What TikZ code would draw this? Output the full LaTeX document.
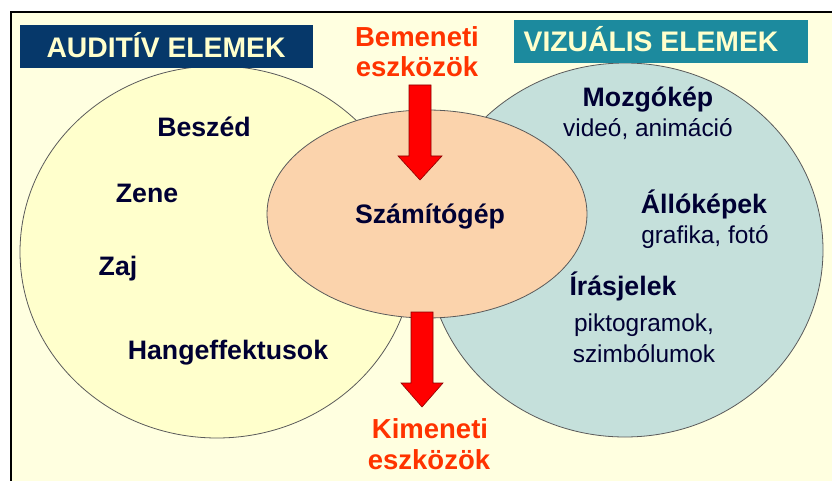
\documentclass[tikz,border=0pt]{standalone}
\usepackage{fontspec}
\setmainfont{Liberation Sans}
\definecolor{bgyellow}{HTML}{FFFFE0}
\definecolor{audfill}{HTML}{FFFFCC}
\definecolor{vizfill}{HTML}{C5E0DB}
\definecolor{pcfill}{HTML}{FBD3AC}
\definecolor{navybox}{HTML}{06386A}
\definecolor{tealbox}{HTML}{1C8A9E}
\definecolor{titletext}{HTML}{FFFFCC}
\definecolor{redtext}{HTML}{FF3300}
\definecolor{bodytext}{HTML}{000033}
\definecolor{arrowred}{HTML}{FF0000}
\definecolor{arrowedge}{HTML}{8A0000}
\definecolor{edgegray}{HTML}{5A5A5A}
\tikzset{
  setfill/.style={draw=edgegray, line width=0.8pt},
  titlebox/.style={inner sep=0pt, minimum height=43pt},
  titlelbl/.style={text=titletext, font=\bfseries\fontsize{28.3}{30}\selectfont, anchor=base},
  bodybold/.style={text=bodytext, font=\bfseries\fontsize{26.7}{30}\selectfont, anchor=base, inner sep=0pt},
  bodyreg/.style={text=bodytext, font=\fontsize{24.4}{28}\selectfont, anchor=base, inner sep=0pt},
  redlbl/.style={text=redtext, font=\bfseries\fontsize{27.5}{30}\selectfont, anchor=base, inner sep=0pt},
  blockarrow/.style={fill=arrowred, draw=arrowedge, line width=0.6pt, line join=miter}
}
\begin{document}
\begin{tikzpicture}[x=1pt,y=-1pt]
\useasboundingbox (0,0) rectangle (832,481);
\fill[white] (0,0) rectangle (832,481);
% frame background
\fill[bgyellow] (11,12) rectangle (832,481);
\draw[black, line width=1.5pt] (11,481) -- (11,12) -- (832,12);
% sets
\draw[setfill, fill=audfill] (217,252) ellipse [x radius=197, y radius=186];
\draw[setfill, fill=vizfill] (625,250) ellipse [x radius=198, y radius=187];
\draw[setfill, fill=pcfill] (427,214) ellipse [x radius=160, y radius=104];
% arrows
\draw[blockarrow] (409,85) -- (431,85) -- (431,156) -- (442,156) -- (420,180) -- (398,156) -- (409,156) -- cycle;
\draw[blockarrow] (411,312) -- (433,312) -- (433,383) -- (443,383) -- (422,407) -- (401,383) -- (411,383) -- cycle;
% title boxes
\node[titlebox, fill=navybox, minimum width=293pt] (audbox) at (166.5,46.5) {};
\node[titlelbl] (audlbl) at (166,58) {AUDITÍV ELEMEK};
\node[titlebox, fill=tealbox, minimum width=294pt] (vizbox) at (661,41.5) {};
\node[titlelbl] (vizlbl) at (651,52) {VIZUÁLIS ELEMEK};
% red labels
\node[redlbl] (be1) at (417,47) {Bemeneti};
\node[redlbl] (be2) at (417,77) {eszközök};
\node[redlbl] (ki1) at (430,438) {Kimeneti};
\node[redlbl] (ki2) at (429,469) {eszközök};
% auditive
\node[bodybold] (beszed) at (204,137) {Beszéd};
\node[bodybold] (zene) at (147,203) {Zene};
\node[bodybold] (zaj) at (118,275) {Zaj};
\node[bodybold] (hang) at (228,359) {Hangeffektusok};
% computer
\node[bodybold] (szg) at (430,223) {Számítógép};
% visual
\node[bodybold] (mozgo) at (648,107) {Mozgókép};
\node[bodyreg] (video) at (648,137) {videó, animáció};
\node[bodybold] (allo) at (704,213) {Állóképek};
\node[bodyreg] (graf) at (705,243) {grafika, fotó};
\node[bodybold] (iras) at (623,295) {Írásjelek};
\node[bodyreg] (pikto) at (644,331) {piktogramok,};
\node[bodyreg] (szimb) at (644,362) {szimbólumok};
\end{tikzpicture}
\end{document}
